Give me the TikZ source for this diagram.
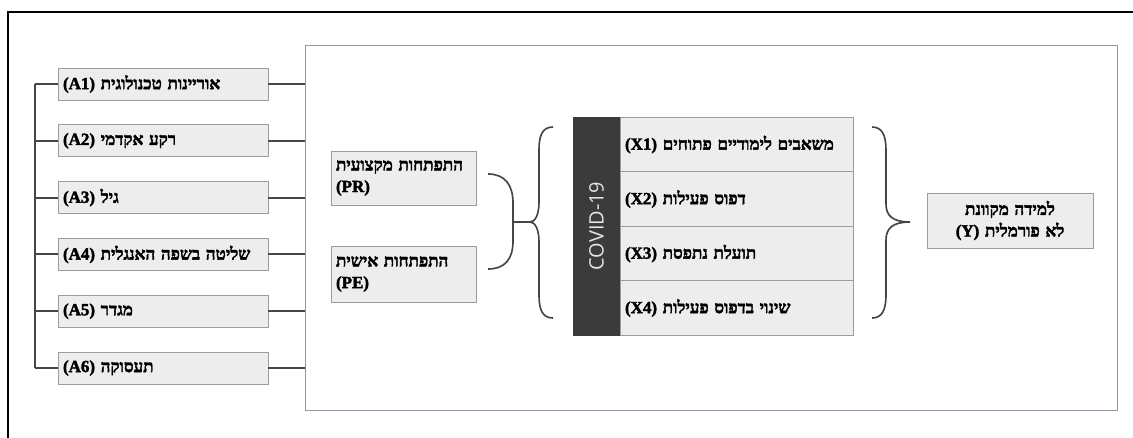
\documentclass[tikz,border=0pt]{standalone}
\usepackage{fontspec}
\setmainfont{Liberation Serif}
\newfontfamily\hebfont[Script=Hebrew, BoldFeatures={FakeBold=2.2}]{Liberation Serif}
\newfontfamily\covidfont{Open Sans}
\TeXXeTstate=1
\definecolor{boxfill}{HTML}{EDEDED}
\definecolor{boxline}{HTML}{9C9C9C}
\definecolor{wirecol}{HTML}{454545}
\definecolor{covidcol}{HTML}{3B3B3B}
\definecolor{framecol}{HTML}{8E98A5}

\begin{document}
\begin{tikzpicture}[x=0.03cm,y=-0.03cm]
   \useasboundingbox[fill=white] (0,0) rectangle (1133,437);
   \tikzstyle{var}=[draw=boxline, fill=boxfill, line width=0.8pt, inner xsep=0.15cm, inner ysep=0pt,
      font=\hebfont\bfseries\fontsize{14.5}{18.5}\selectfont]
   \tikzstyle{avar}=[var, minimum width=6.3cm, minimum height=0.96cm, text width=6cm, align=left]
   \tikzstyle{xvar}=[var, minimum width=6.99cm, minimum height=1.635cm, text width=6.69cm, align=left]
   \tikzstyle{wire}=[draw=wirecol, line width=1.6pt]
   \tikzstyle{brace}=[draw=wirecol, line width=1.4pt]
   % outer frame and model box
   \draw[line width=1pt] (1140,12) -- (8,12) -- (8,445);
   \node[draw=framecol, line width=0.8pt, minimum width=24.36cm, minimum height=10.95cm] (model) at (711,227.5) {};
   % background variables
   \coordinate (bartop) at (35,84);
   \coordinate (barbot) at (35,368);
   \draw[wire] (bartop) -- (barbot);
   \foreach \i/\txt in {1/{אוריינות טכנולוגית},2/{רקע אקדמי},3/{גיל},4/{שליטה בשפה האנגלית},5/{מגדר},6/{תעסוקה}} {
       \node[avar] (a\i) at (163,{84+56.8*(\i-1)}) {\beginR\txt\ \beginL(A\i)\endL\endR};
       \draw[wire] (a\i.west) -- (a\i.west -| bartop);
       \draw[wire] (a\i.east) -- (a\i.east -| model.west);
   }
   % development
   \node[var, minimum width=4.35cm, minimum height=1.62cm, text width=4.05cm, align=left] (pr) at (403.5,178)
      {\beginR התפתחות מקצועית\endR\\(PR)};
   \node[var, minimum width=4.35cm, minimum height=1.68cm, text width=4.05cm, align=left] (pe) at (403.5,274)
      {\beginR התפתחות אישית\endR\\(PE)};
   % covid factors
   \node[draw=covidcol, fill=covidcol, minimum width=1.41cm, minimum height=6.54cm, inner sep=0pt] (covid) at (596.5,226) {};
   \node[rotate=90, text=white!90!black, font=\covidfont\fontsize{17}{17}\selectfont] (covidlbl) at (covid.center) {COVID-19};
   \foreach \i/\txt in {1/{משאבים לימודיים פתוחים},2/{דפוס פעילות},3/{תועלת נתפסת},4/{שינוי בדפוס פעילות}} {
       \node[xvar] (x\i) at (736.5,{144.5+54.5*(\i-1)}) {\beginR\txt\ \beginL(X\i)\endL\endR};
   }
   % outcome
   \node[var, minimum width=4.98cm, minimum height=1.65cm, text width=4.68cm, align=center] (y) at (1010,220.5)
      {\beginR למידה מקוונת\endR\\\beginR לא פורמלית \beginL(Y)\endL\endR};
   % braces
   \coordinate (jl) at (513,222);
   \coordinate (jr) at (530,222);
   \draw[brace] (488,174) .. controls (505,174) and (513,185) .. (513,203) -- (513,241)
      .. controls (513,259) and (505,269) .. (488,269);
   \draw[brace] (jl) -- (jr);
   \draw[brace] (553,127) .. controls (542,127) and (539,136) .. (539,150) -- (539,202)
      .. controls (539,215) and (535,222) .. (jr) .. controls (535,222) and (539,229) .. (539,242)
      -- (539,295) .. controls (539,309) and (542,318) .. (553,318);
   \draw[brace] (872,127) .. controls (882,127) and (886,135) .. (886,150) -- (886,204)
      .. controls (886,216) and (893,222) .. (910,222) .. controls (893,222) and (886,228) .. (886,240)
      -- (886,295) .. controls (886,310) and (882,318) .. (872,318);
\end{tikzpicture}
\end{document}
